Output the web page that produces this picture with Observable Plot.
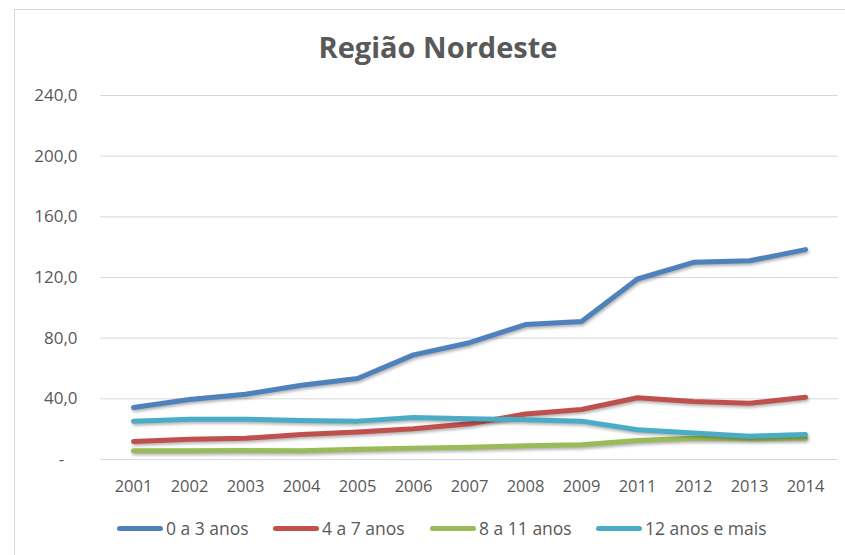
<!DOCTYPE html>
<html>
<head>
<meta charset="utf-8">
<script src="https://cdn.jsdelivr.net/npm/d3@7"></script>
<script src="https://cdn.jsdelivr.net/npm/@observablehq/plot@0.6"></script>
<style>
  html, body { margin: 0; padding: 0; background: #fff; }
  body { width: 845px; height: 555px; position: relative; overflow: hidden; font-family: "Open Sans", sans-serif; color: #595959; }
  #frame { position: absolute; left: 14px; top: 9px; width: 840px; height: 560px; border: 1px solid #d9d9d9; box-sizing: border-box; }
  #title { position: absolute; left: 0; width: 876px; top: 27px; text-align: center; font-size: 29px; font-weight: bold; color: #595959; white-space: nowrap; }
  #chart { position: absolute; left: 0; top: 0; }
  #chart svg g[aria-label="line"] path { filter: drop-shadow(1px 2px 1.5px rgba(0,0,0,0.3)); }
  #legend { position: absolute; top: 528px; left: 0; font-size: 17.5px; color: #595959; }
  .item { position: absolute; display: flex; align-items: center; white-space: nowrap; transform: translateY(-50%); }
  .sw { width: 46px; height: 5px; border-radius: 3px; }
  .lab { margin-left: 3px; }
</style>
</head>
<body>
<div id="frame"></div>
<div id="title">Região Nordeste</div>
<div id="chart"></div>
<div id="legend"></div>
<script>
const years = ["2001","2002","2003","2004","2005","2006","2007","2008","2009","2011","2012","2013","2014"];
const seriesNames = ["0 a 3 anos", "4 a 7 anos", "8 a 11 anos", "12 anos e mais"];
const colors = ["#4F81BD", "#C0504D", "#9BBB59", "#4BACC6"];
const s0a3 = [34.3, 39.5, 43.0, 49.0, 53.4, 69.0, 77.0, 89.0, 91.0, 119.0, 130.0, 131.0, 138.4];
const s4a7 = [11.9, 13.4, 14.0, 16.5, 18.2, 20.2, 23.5, 30.0, 33.0, 40.7, 38.2, 37.1, 41.0];
const s8a11 = [5.7, 5.7, 5.9, 5.7, 6.8, 7.5, 8.1, 9.0, 9.7, 12.5, 14.0, 13.6, 14.0];
const s12mais = [25.3, 26.6, 26.6, 25.7, 25.3, 27.7, 26.8, 26.2, 25.3, 19.6, 17.4, 15.4, 16.5];
const yTicks = [0, 40, 80, 120, 160, 200, 240];

const allSeries = [s0a3, s4a7, s8a11, s12mais];
const data = [];
allSeries.forEach((vals, i) => {
  vals.forEach((v, j) => data.push({ year: years[j], value: v, series: seriesNames[i] }));
});

const fmt = d => d === 0 ? "-\u00A0\u00A0\u00A0" : d.toFixed(1).replace(".", ",");

const plot = Plot.plot({
  width: 845,
  height: 500,
  marginTop: 95,
  marginBottom: 41,
  marginLeft: 100,
  marginRight: 7,
  style: { fontFamily: "Open Sans, sans-serif", fontSize: "16.5px", color: "#595959", background: "transparent", overflow: "visible" },
  x: { type: "point", domain: years, padding: 0.5, label: null },
  y: { domain: [0, 240], label: null },
  color: { domain: seriesNames, range: colors },
  marks: [
    Plot.ruleY(yTicks, { stroke: "#d9d9d9", strokeWidth: 1, strokeOpacity: 1 }),
    Plot.axisY({ ticks: yTicks, tickSize: 0, tickPadding: 23, tickFormat: fmt, label: null, fill: "#595959", fontSize: 17 }),
    Plot.axisX({ tickSize: 0, tickPadding: 21, label: null, fill: "#595959", fontSize: 16.5 }),
    Plot.line(data, { x: "year", y: "value", z: "series", stroke: "series", strokeWidth: 5, strokeLinecap: "round", strokeLinejoin: "round" })
  ]
});
document.getElementById("chart").appendChild(plot);

const legend = document.getElementById("legend");
const legendLeft = [117, 273, 430, 596];
seriesNames.forEach((name, i) => {
  const it = document.createElement("div");
  it.className = "item";
  it.style.left = legendLeft[i] + "px";
  const sw = document.createElement("div");
  sw.className = "sw";
  sw.style.background = colors[i];
  const lab = document.createElement("span");
  lab.className = "lab";
  lab.textContent = name;
  it.appendChild(sw);
  it.appendChild(lab);
  legend.appendChild(it);
});
</script>
</body>
</html>
